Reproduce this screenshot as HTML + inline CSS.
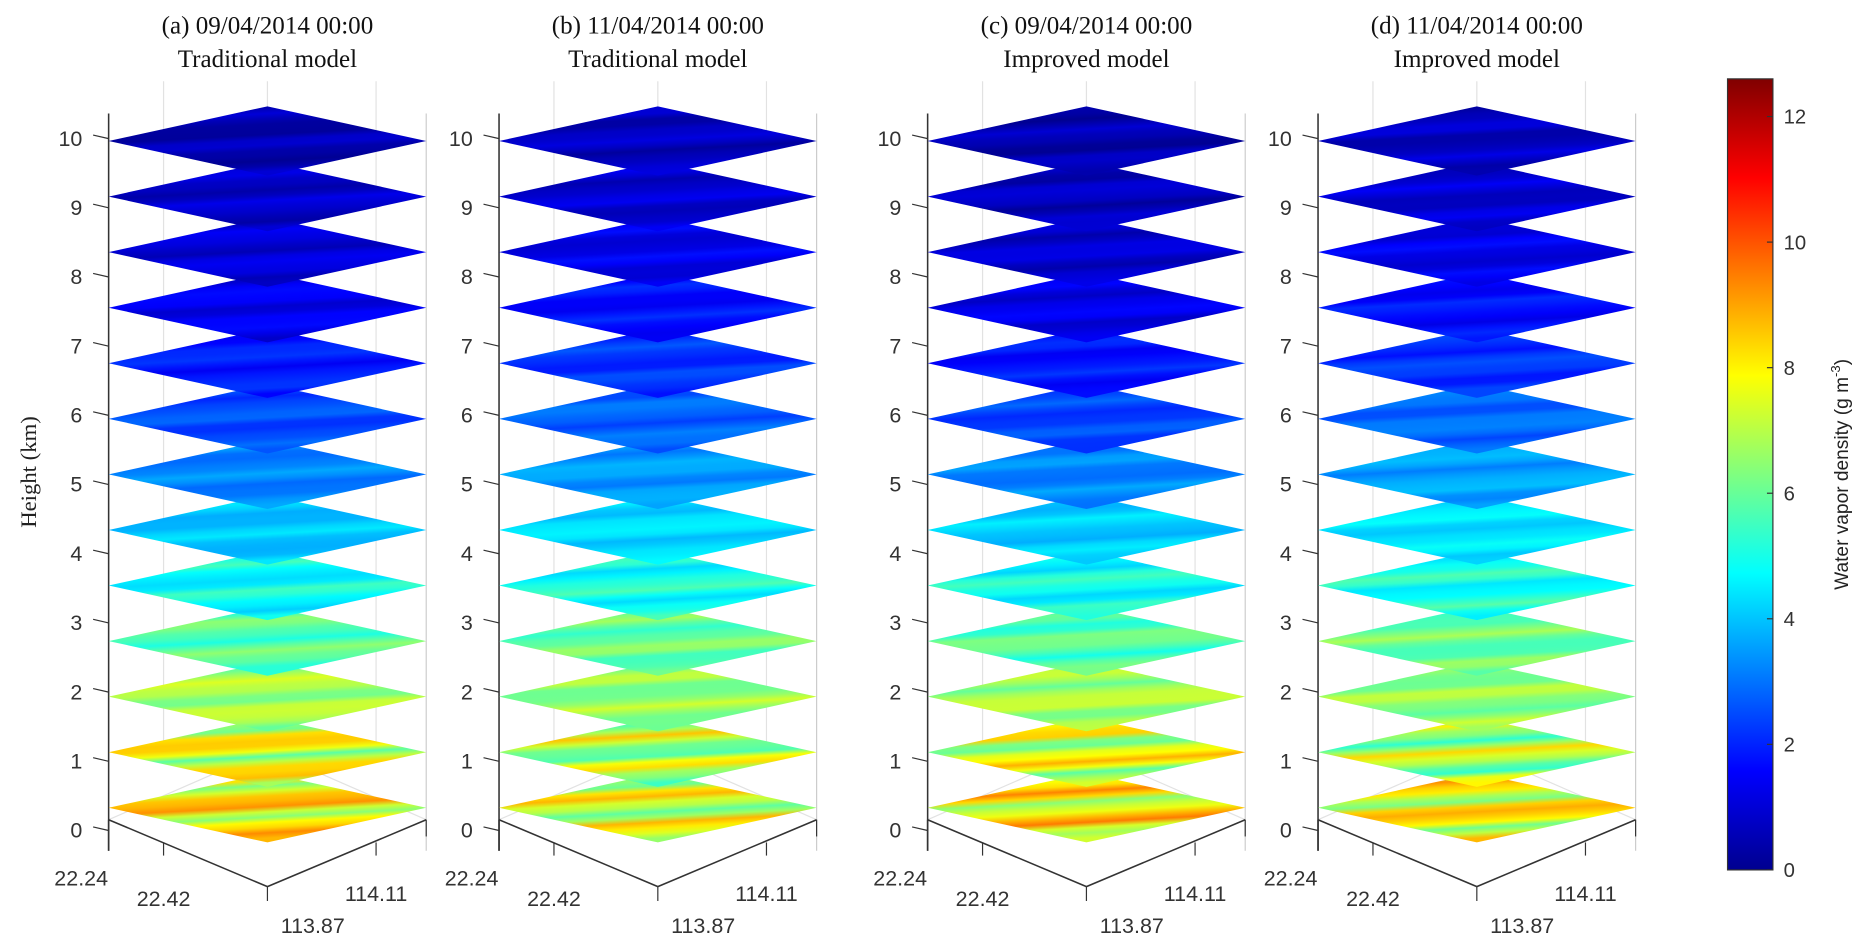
<!DOCTYPE html>
<html><head><meta charset="utf-8"><style>
html,body{margin:0;padding:0;background:#fff;width:1872px;height:944px;overflow:hidden}
svg{display:block}
</style></head><body>
<svg id="s" width="1872" height="944" viewBox="0 0 1568 790" preserveAspectRatio="none" xmlns="http://www.w3.org/2000/svg">
<defs id="defs">
<linearGradient id="cb" x1="0" y1="1" x2="0" y2="0">
<stop offset="0" stop-color="#00008f"/><stop offset="0.125" stop-color="#0000ff"/><stop offset="0.375" stop-color="#00ffff"/><stop offset="0.625" stop-color="#ffff00"/><stop offset="0.875" stop-color="#ff0000"/><stop offset="1" stop-color="#800000"/>
</linearGradient>
</defs>
<g id="g"></g>
</svg>
<script>
function jet(v){var t=Math.max(0,Math.min(1,v/12.6));
function c(x){return Math.max(0,Math.min(1,x));}
var r=c(1.5-Math.abs(4*t-3)),g=c(1.5-Math.abs(4*t-2)),b=c(1.5-Math.abs(4*t-1));
return 'rgb('+Math.round(r*255)+','+Math.round(g*255)+','+Math.round(b*255)+')';}
var NS='http://www.w3.org/2000/svg',G=document.getElementById('g'),D=document.getElementById('defs');
function el(n,a,p,t){var e=document.createElementNS(NS,n);for(var k in a)e.setAttribute(k,a[k]);if(t!=null)e.textContent=t;(p||G).appendChild(e);return e;}
var panels=[
{x:91,t1:'(a) 09/04/2014  00:00',t2:'Traditional model',v:[8,7.6,6.8,5.8,4.8,4,3.2,2.5,1.9,1.4,1.1,0.9,0.6]},
{x:418,t1:'(b) 11/04/2014 00:00',t2:'Traditional model',v:[7.3,6.8,6.5,6,5,4.3,3.5,2.8,2.2,1.7,1.3,1,0.8]},
{x:777,t1:'(c) 09/04/2014 00:00',t2:'Improved model',v:[7.9,7.4,6.8,5.8,4.9,4.1,3.2,2.4,1.8,1.3,1,0.8,0.6]},
{x:1104,t1:'(d) 11/04/2014 00:00',t2:'Improved model',v:[7.8,6.8,6.5,6,5,4.4,3.6,2.9,2.2,1.7,1.3,1,0.8]}];
var W=266,H=29,gid=0;
panels.forEach(function(P,pi){
 var x0=P.x,x1=x0+W,cx=x0+133;
 el('text',{x:cx,y:28,'text-anchor':'middle','font-family':'Liberation Serif,serif','font-size':21,fill:'#111'},null,P.t1);
 el('text',{x:cx,y:56,'text-anchor':'middle','font-family':'Liberation Serif,serif','font-size':21,fill:'#111'},null,P.t2);
 [x0+46,cx,x0+224].forEach(function(gx){el('line',{x1:gx,y1:68,x2:gx,y2:628,stroke:'#e2e2e2','stroke-width':1});});
 el('line',{x1:x0,y1:686,x2:cx,y2:628,stroke:'#e2e2e2'});el('line',{x1:cx,y1:628,x2:x1,y2:686,stroke:'#e2e2e2'});
 el('line',{x1:x0,y1:95,x2:x0,y2:712,stroke:'#333','stroke-width':1.3});
 el('line',{x1:x1,y1:95,x2:x1,y2:712,stroke:'#ccc','stroke-width':1});
 el('line',{x1:x0,y1:686,x2:cx,y2:742,stroke:'#333','stroke-width':1.3});
 el('line',{x1:cx,y1:742,x2:x1,y2:686,stroke:'#333','stroke-width':1.3});
 el('line',{x1:x0,y1:686,x2:x0,y2:712,stroke:'#333','stroke-width':1.3});
 el('line',{x1:x0+46,y1:705,x2:x0+46,y2:716,stroke:'#333'});
 el('line',{x1:cx,y1:742,x2:cx,y2:754,stroke:'#333'});
 el('line',{x1:x0+224,y1:705,x2:x0+224,y2:716,stroke:'#333'});
 el('line',{x1:x1,y1:686,x2:x1,y2:700,stroke:'#333'});
 for(var k=0;k<=10;k++){var ty=695-k*57.9;
  el('line',{x1:x0-13,y1:ty-3,x2:x0,y2:ty,stroke:'#333'});
  el('text',{x:x0-22,y:ty+6,'text-anchor':'end','font-family':'Liberation Sans,sans-serif','font-size':18,fill:'#333'},null,''+k);}
 var fs={'font-family':'Liberation Sans,sans-serif','font-size':18,fill:'#333'};
 function T(x,y,s,a){var o={x:x,y:y,'text-anchor':a||'middle'};for(var q in fs)o[q]=fs[q];el('text',o,null,s);}
 T(x0-23,741,'22.24');T(x0+46,758,'22.42');T(cx+38,781,'113.87');T(x0+224,754,'114.11');
 for(var i=0;i<13;i++){
  var y=676-i*46.5,v=P.v[i],amp=i<2?1.3:(i<5?0.6:0.35);
  var id='d'+(gid++);var lg=el('linearGradient',{id:id,x1:'0',y1:'0',x2:'0.25',y2:'1'},D);
  for(var s=0;s<=14;s++){var vv=v+amp*Math.sin(s*1.1+i*0.9+pi*1.3)+amp*0.4*Math.cos(s*2.3+i);
   if(s<3&&i<4)vv=v-1.8+s*0.5;
   el('stop',{offset:s/14,'stop-color':jet(vv)},lg);}
  el('polygon',{points:x0+','+y+' '+cx+','+(y-H)+' '+x1+','+y+' '+cx+','+(y+H),fill:'url(#'+id+')'});
 }
});
el('text',{x:0,y:0,transform:'translate(30,395) rotate(-90)','text-anchor':'middle','font-family':'Liberation Serif,serif','font-size':19,fill:'#222'},null,'Height (km)');
el('rect',{x:1447,y:66,width:38,height:662,fill:'url(#cb)',stroke:'#333','stroke-width':1});
for(var k=0;k<=12;k+=2){var ty=728-k*(662/12.6);
 el('line',{x1:1480,y1:ty,x2:1485,y2:ty,stroke:'#333'});
 el('text',{x:1494,y:ty+6,'font-family':'Liberation Sans,sans-serif','font-size':17,fill:'#333'},null,''+k);}
var lab=el('text',{x:0,y:0,transform:'translate(1548,397) rotate(-90)','text-anchor':'middle','font-family':'Liberation Sans,sans-serif','font-size':16,fill:'#222'},null,'Water vapor density (g m');
el('tspan',{dy:-7,'font-size':11},lab,'-3');el('tspan',{dy:7},lab,')');
</script>
</body></html>
